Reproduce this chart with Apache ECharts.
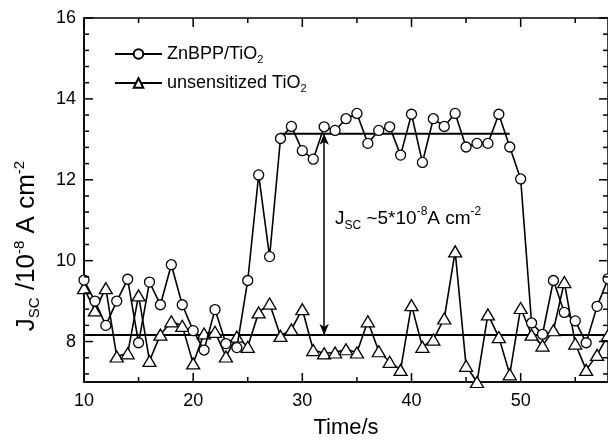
<!DOCTYPE html>
<html><head><meta charset="utf-8">
<script src="https://cdn.jsdelivr.net/npm/echarts@6/dist/echarts.min.js"></script>
<style>html,body{margin:0;padding:0;background:#fff}#c{width:608px;height:444px}</style>
</head><body><div id="c"></div>
<script>
// ---- data ----
const time = [10,11,12,13,14,15,16,17,18,19,20,21,22,23,24,25,26,27,28,29,30,31,32,33,34,35,36,37,38,39,40,41,42,43,44,45,46,47,48,49,50,51,52,53,54,55,56,57,58];
const znbpp = [9.52,9.0,8.4,9.0,9.54,7.97,9.47,8.91,9.9,8.91,8.27,7.79,8.79,7.95,7.85,9.51,12.12,10.1,13.02,13.32,12.72,12.51,13.31,13.22,13.51,13.64,12.9,13.22,13.31,12.61,13.62,12.43,13.51,13.32,13.64,12.81,12.9,12.9,13.62,12.81,12.02,8.46,8.18,9.51,8.72,8.51,7.97,8.87,9.55];
const unsens = [9.32,8.77,9.32,7.63,7.71,9.14,7.52,8.17,8.5,8.39,7.46,8.2,8.24,7.63,8.12,7.87,8.72,8.94,8.14,8.3,8.8,7.79,7.71,7.73,7.81,7.73,8.5,7.76,7.5,7.3,8.9,7.87,8.05,8.57,10.23,7.4,7.0,8.67,8.11,7.19,8.83,8.17,7.9,8.28,9.47,7.95,7.3,7.67,8.16];
const baselineLevel = 8.16;
const plateauLevel = 13.14;
const plateauStart = 28, plateauEnd = 49;
const arrowTime = 32;
const xMajorTicks = [10,20,30,40,50];
const xMinorTicks = [15,25,35,45,55];
const yMajorTicks = [8,10,12,14,16];
const yMinorTicks = [7.2,7.6,8.4,8.8,9.2,9.6,10.4,10.8,11.2,11.6,12.4,12.8,13.2,13.6,14.4,14.8,15.2,15.6];
const xMin = 10, xMax = 58, yMin = 7, yMax = 16;

const FF = '"Liberation Sans", Arial, Helvetica, sans-serif';
const chart = echarts.init(document.getElementById('c'), null, {renderer:'canvas'});

const xTickData = xMajorTicks.map(v => [v, 9]).concat(xMinorTicks.map(v => [v, 5]));
const yTickData = yMajorTicks.map(v => [9, v]).concat(yMinorTicks.map(v => [5, v]));

function tickItemX(params, api) {
  const v = api.value(0), len = api.value(1);
  const b = api.coord([v, yMin]), t = api.coord([v, yMax]);
  const st = {stroke:'#000', lineWidth:1.5};
  return {type:'group', children:[
    {type:'line', shape:{x1:b[0], y1:b[1], x2:b[0], y2:b[1]-len}, style:st},
    {type:'line', shape:{x1:t[0], y1:t[1], x2:t[0], y2:t[1]+len}, style:st}
  ]};
}
function tickItemY(params, api) {
  const len = api.value(0), v = api.value(1);
  const l = api.coord([xMin, v]), r = api.coord([xMax, v]);
  const st = {stroke:'#000', lineWidth:1.5};
  return {type:'group', children:[
    {type:'line', shape:{x1:l[0], y1:l[1], x2:l[0]+len, y2:l[1]}, style:st},
    {type:'line', shape:{x1:r[0], y1:r[1], x2:r[0]-len, y2:r[1]}, style:st}
  ]};
}

const richMain = {
  m: {fontSize: 18, fontFamily: FF, color:'#000', lineHeight: 22},
  sub: {fontSize: 11, fontFamily: FF, color:'#000', lineHeight: 10, verticalAlign: 'bottom'}
};

const option = {
  backgroundColor: '#fff',
  animation: false,
  grid: {left: 84, top: 18, width: 525.6, height: 365.3, show: true, borderColor: '#000', borderWidth: 1.5, backgroundColor: 'transparent'},
  title: [{
    text: '{m|J}{sub|SC}{m| ~5*10}{sup|-8}{m|A cm}{sup|-2}',
    left: 330, top: 201,
    textStyle: {fontWeight: 'normal', rich: {
      m: {fontSize: 19, fontWeight: 'normal', fontFamily: FF, color:'#000', lineHeight: 26},
      sub: {fontSize: 12, fontWeight: 'normal', fontFamily: FF, color:'#000', lineHeight: 12, verticalAlign: 'bottom'},
      sup: {fontSize: 12, fontWeight: 'normal', fontFamily: FF, color:'#000', lineHeight: 12, verticalAlign: 'top'}
    }}
  }],
  legend: {
    left: 109, top: 40, orient: 'vertical', itemWidth: 47, itemHeight: 12, itemGap: 9,
    data: ['ZnBPP/TiO2', 'unsensitized TiO2'],
    formatter: n => n === 'ZnBPP/TiO2' ? '{m|ZnBPP/TiO}{sub|2}' : '{m|unsensitized TiO}{sub|2}',
    textStyle: {rich: richMain, padding: [0,0,0,0]}
  },
  xAxis: {
    type: 'value', min: xMin, max: xMax, position: 'bottom',
    axisLine: {show: true, onZero: false, lineStyle: {color:'#000', width: 1.5}},
    axisTick: {show: false},
    splitLine: {show: false},
    axisLabel: {color:'#000', fontSize: 18, fontFamily: FF, margin: 10, showMaxLabel: false,
      formatter: v => xMajorTicks.indexOf(v) >= 0 ? String(v) : ''},
    name: 'Time/s', nameLocation: 'middle', nameGap: 35,
    nameTextStyle: {color:'#000', fontSize: 22, fontFamily: FF}
  },
  yAxis: {
    type: 'value', min: yMin, max: yMax,
    axisLine: {show: true, onZero: false, lineStyle: {color:'#000', width: 1.5}},
    axisTick: {show: false},
    splitLine: {show: false},
    axisLabel: {color:'#000', fontSize: 18, fontFamily: FF, margin: 8, showMinLabel: false,
      formatter: v => yMajorTicks.indexOf(v) >= 0 ? String(v) : ''},
    name: '{m|J}{sub|SC}{m| /10}{sup|-8}{m| A cm}{sup|-2}',
    nameLocation: 'middle', nameRotate: 90, nameGap: 42,
    nameTextStyle: {padding: [0, 92, 0, 0], rich: {
      m: {fontSize: 26, fontFamily: FF, color:'#000', lineHeight: 30},
      sub: {fontSize: 15, fontFamily: FF, color:'#000', lineHeight: 13, verticalAlign: 'bottom'},
      sup: {fontSize: 15, fontFamily: FF, color:'#000', lineHeight: 13, verticalAlign: 'top'}
    }}
  },
  series: [
    {
      name: 'baseline', type: 'line', data: [[xMin, baselineLevel], [xMax, baselineLevel]],
      symbol: 'none', lineStyle: {color:'#000', width: 2}, silent: true, z: 1
    },
    {
      name: 'plateau', type: 'line', data: [[plateauStart, plateauLevel], [plateauEnd, plateauLevel]],
      symbol: 'none', lineStyle: {color:'#000', width: 2}, silent: true, z: 1,
      markLine: {
        silent: true, symbol: ['arrow', 'arrow'], symbolSize: [7, 11],
        lineStyle: {color:'#000', width: 1.5, type: 'solid'}, label: {show: false},
        data: [[{coord: [arrowTime, plateauLevel]}, {coord: [arrowTime, baselineLevel]}]]
      }
    },
    {
      name: 'unsensitized TiO2', type: 'line', data: time.map((t, i) => [t, unsens[i]]),
      symbol: 'triangle', symbolSize: [13, 11], showAllSymbol: true,
      lineStyle: {color:'#000', width: 1.6}, itemStyle: {color:'#fff', borderColor:'#000', borderWidth: 1.3},
      z: 3
    },
    {
      name: 'ZnBPP/TiO2', type: 'line', data: time.map((t, i) => [t, znbpp[i]]),
      symbol: 'circle', symbolSize: 10, showAllSymbol: true,
      lineStyle: {color:'#000', width: 1.6}, itemStyle: {color:'#fff', borderColor:'#000', borderWidth: 1.3},
      z: 4
    },
    {type: 'custom', data: xTickData, renderItem: tickItemX, silent: true, z: 5},
    {type: 'custom', data: yTickData, renderItem: tickItemY, silent: true, z: 5}
  ]
};
chart.setOption(option);
</script>
</body></html>
